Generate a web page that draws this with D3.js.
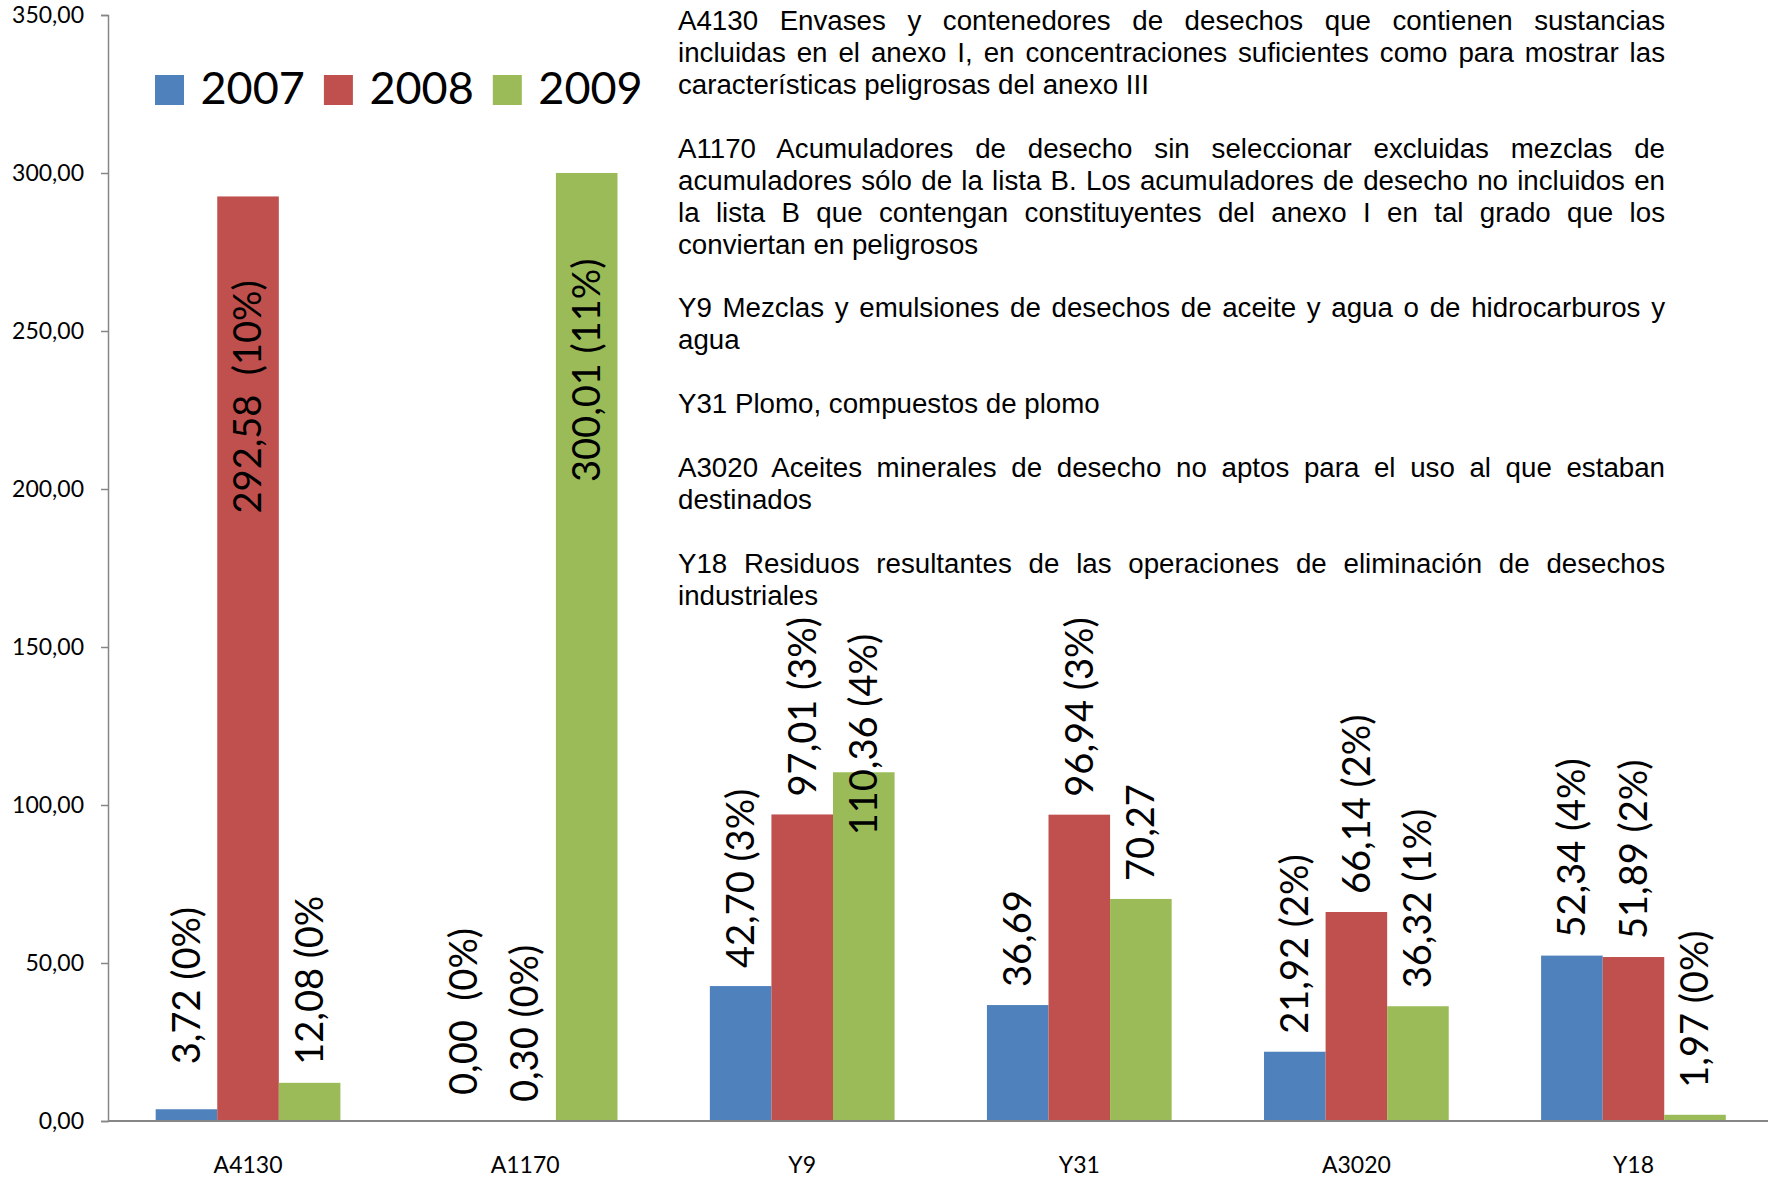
<!DOCTYPE html>
<html lang="es">
<head>
  <meta charset="UTF-8">
  <title>Residuos peligrosos 2007-2009</title>
  <style>
  body { margin: 0; background: #fff; }
  svg { display: block; }
  .tick text { font-family: Lato, sans-serif; }
  </style>
</head>
<body>
<script src="https://cdnjs.cloudflare.com/ajax/libs/d3/7.8.5/d3.min.js"></script>
<script>
// datos
var categories = ["A4130", "A1170", "Y9", "Y31", "A3020", "Y18"];
var years = ["2007", "2008", "2009"];
var values2007 = [3.72, 0.00, 42.70, 36.69, 21.92, 52.34];
var values2008 = [292.58, 0.30, 97.01, 96.94, 66.14, 51.89];
var values2009 = [12.08, 300.01, 110.36, 70.27, 36.32, 1.97];
var labels2007 = ["3,72 (0%)", "0,00  (0%)", "42,70 (3%)", "36,69", "21,92 (2%)", "52,34 (4%)"];
var labels2008 = ["292,58  (10%)", "0,30 (0%)", "97,01 (3%)", "96,94 (3%)", "66,14 (2%)", "51,89 (2%)"];
var labels2009 = ["12,08 (0%", "300,01 (11%)", "110,36 (4%)", "70,27", "36,32 (1%)", "1,97 (0%)"];
var yTicks = [0, 50, 100, 150, 200, 250, 300, 350];
var colors = ["#4F81BD", "#C0504D", "#9BBB59"];

var notes = [
  ["A4130 Envases y contenedores de desechos que contienen sustancias",
   "incluidas en el anexo I, en concentraciones suficientes como para mostrar las",
   "características peligrosas del anexo III"],
  ["A1170 Acumuladores de desecho sin seleccionar excluidas mezclas de",
   "acumuladores sólo de la lista B. Los acumuladores de desecho no incluidos en",
   "la lista B que contengan constituyentes del anexo I en tal grado que los",
   "conviertan en peligrosos"],
  ["Y9 Mezclas y emulsiones de desechos de aceite y agua o de hidrocarburos y",
   "agua"],
  ["Y31 Plomo, compuestos de plomo"],
  ["A3020 Aceites minerales de desecho no aptos para el uso al que estaban",
   "destinados"],
  ["Y18 Residuos resultantes de las operaciones de eliminación de desechos",
   "industriales"]
];

// etiquetas movidas a mano en el original (px)
var labelNudge = {
  "A4130|2007": -27, "A4130|2008": 335, "A1170|2007": -8,
  "A1170|2009": 327, "Y9|2009": 81, "Y18|2009": -9
};

var width = 1768, height = 1178;
var axisX = 108, mLeft = 109.5, mRight = 1772, mTop = 15, mBottom = 1121;

var series = years.map(function(yr, i) {
  var vals = [values2007, values2008, values2009][i];
  var labs = [labels2007, labels2008, labels2009][i];
  return categories.map(function(c, j) {
    return { cat: c, year: yr, value: vals[j], label: labs[j] };
  });
});

var svg = d3.select("body").append("svg").attr("width", width).attr("height", height);

var x0 = d3.scaleBand().domain(categories).range([mLeft, mRight]).padding(0);
var bw = x0.bandwidth() / 4.5;
var x1 = d3.scaleBand().domain(years)
  .range([0.75 * bw, 3.75 * bw]).padding(0);
var y = d3.scaleLinear().domain([0, 350]).range([mBottom, mTop]);

var fmt = function(d) { return d3.format(".2f")(d).replace(".", ","); };

// eje y
var gy = svg.append("g")
  .attr("transform", "translate(" + axisX + ",0)")
  .call(d3.axisLeft(y).tickValues(yTicks).tickFormat(fmt).tickSize(7).tickPadding(17));
gy.select(".domain").attr("stroke", "#868686").attr("stroke-width", 1.5);
gy.selectAll(".tick line").attr("stroke", "#868686").attr("stroke-width", 1.5);
gy.selectAll(".tick text").attr("font-size", 23).attr("fill", "#000");

// barras
var groups = svg.selectAll(".serie").data(series).enter().append("g")
  .attr("class", "serie")
  .attr("fill", function(d, i) { return colors[i]; });
groups.selectAll("rect").data(function(d) { return d; }).enter().append("rect")
  .attr("x", function(d) { return x0(d.cat) + x1(d.year); })
  .attr("width", x1.bandwidth())
  .attr("y", function(d) { return y(d.value); })
  .attr("height", function(d) { return y(0) - y(d.value); });

// eje x
var gx = svg.append("g")
  .attr("transform", "translate(0," + mBottom + ")")
  .call(d3.axisBottom(x0).tickSize(0).tickPadding(36));
gx.select(".domain").attr("stroke", "#868686").attr("stroke-width", 2)
  .attr("d", "M" + axisX + ",0H" + width);
gx.selectAll(".tick text").attr("font-size", 23).attr("fill", "#000");

// etiquetas de datos
svg.append("g").selectAll("text").data(d3.merge(series)).enter().append("text")
  .attr("transform", function(d) {
    var cx = x0(d.cat) + x1(d.year) + x1.bandwidth() / 2;
    var sy = y(d.value) - 18 + (labelNudge[d.cat + "|" + d.year] || 0);
    return "translate(" + cx + "," + sy + ") rotate(-90)";
  })
  .attr("dy", "0.35em")
  .attr("font-family", "Lato, sans-serif")
  .attr("font-size", 38)
  .attr("fill", "#000")
  .style("white-space", "pre")
  .text(function(d) { return d.label; });

// leyenda
var lx = 155;
years.forEach(function(yr, i) {
  svg.append("rect").attr("x", lx).attr("y", 75).attr("width", 29).attr("height", 30)
    .attr("fill", colors[i]);
  var t = svg.append("text").attr("x", lx + 45.5).attr("y", 104)
    .attr("font-family", "Lato, sans-serif").attr("font-size", 45).attr("fill", "#000")
    .text(yr);
  lx += 45.5 + t.node().getComputedTextLength() + 19;
});

// texto descriptivo (justificado)
var tx = 678, tw = 987, lineH = 31.94, base = 30;
var row = 0;
var gt = svg.append("g").attr("font-family", "'Liberation Sans', Arial, sans-serif")
  .attr("font-size", 27.7).attr("fill", "#000");
notes.forEach(function(par) {
  par.forEach(function(line, k) {
    var t = gt.append("text").attr("x", tx).attr("y", base + row * lineH).text(line);
    if (k < par.length - 1) {
      var n = line.split(" ").length - 1;
      var extra = tw - t.node().getComputedTextLength();
      t.attr("word-spacing", extra / n);
    }
    row++;
  });
  row++;
});
</script>
</body>
</html>
